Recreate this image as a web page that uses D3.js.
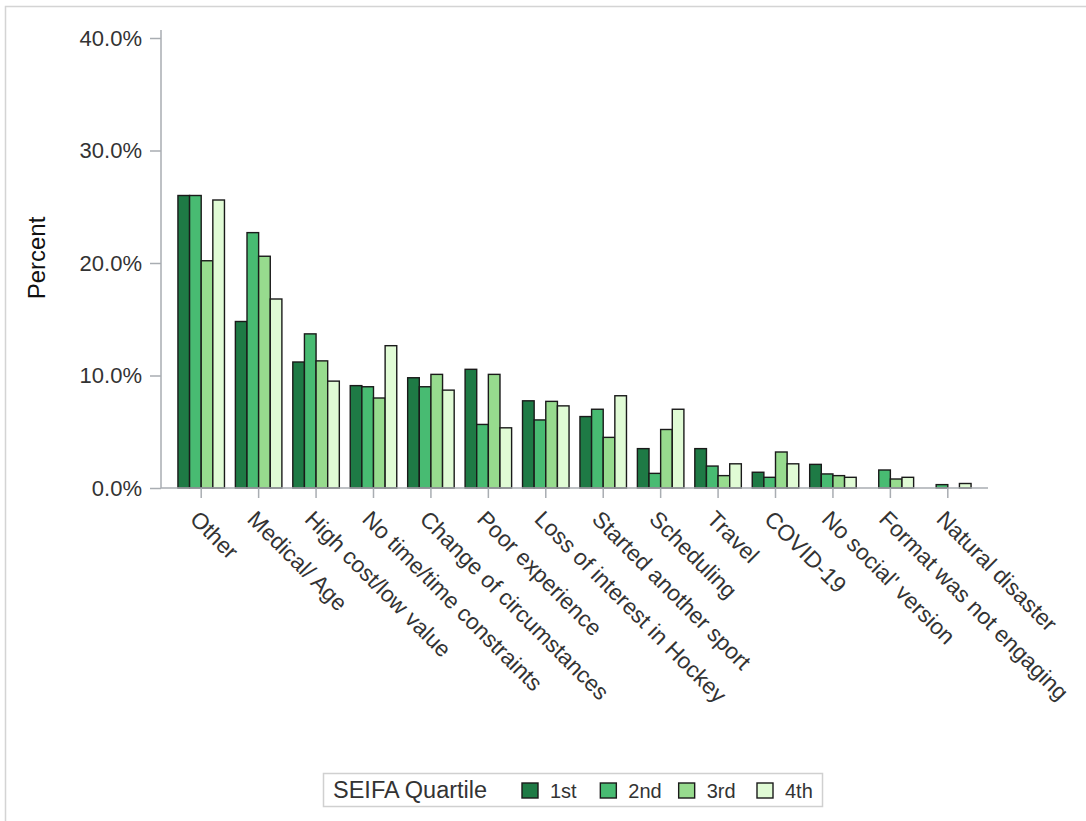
<!DOCTYPE html>
<html>
<head>
<meta charset="utf-8">
<script src="https://cdn.jsdelivr.net/npm/d3@7"></script>
<style>
  html, body { margin: 0; padding: 0; background: #fff; }
  svg { display: block; font-family: "Liberation Sans", Arial, sans-serif; }
</style>
</head>
<body>
<svg id="chart" width="1086" height="821"></svg>
<script>
// Reasons for leaving, by SEIFA quartile (percent of respondents)
const categories = [
  "Other", "Medical/ Age", "High cost/low value", "No time/time constraints",
  "Change of circumstances", "Poor experience", "Loss of interest in Hockey",
  "Started another sport", "Scheduling", "Travel", "COVID-19",
  "No social' version", "Format was not engaging", "Natural disaster"
];
const quartiles = ["1st", "2nd", "3rd", "4th"];
const q1 = [26.0, 14.8, 11.2, 9.1, 9.8, 10.55, 7.75, 6.35, 3.5, 3.5, 1.4, 2.1, 0.0, 0.0];
const q2 = [26.0, 22.7, 13.7, 9.0, 9.0, 5.65, 6.05, 7.0, 1.3, 1.95, 0.95, 1.25, 1.6, 0.3];
const q3 = [20.2, 20.6, 11.3, 8.0, 10.1, 10.1, 7.7, 4.5, 5.2, 1.1, 3.2, 1.1, 0.8, 0.0];
const q4 = [25.6, 16.8, 9.5, 12.65, 8.7, 5.35, 7.3, 8.2, 7.0, 2.15, 2.15, 0.95, 0.95, 0.4];
const yTicks = [0, 10, 20, 30, 40];
const colors = ["#1e7a45", "#48bb72", "#97db8e", "#e0fbd5"];

const series = [q1, q2, q3, q4];
const rows = categories.map((c, i) => ({ cat: c, vals: series.map(s => s[i]) }));

const svg = d3.select("#chart");

// outer frame
svg.append("path")
  .attr("d", "M5.5,821 V6.5 H1086")
  .attr("fill", "none").attr("stroke", "#d4d4d4").attr("stroke-width", 1.5);

const plotLeft = 161, plotRight = 988, plotTop = 38, plotBottom = 488;

const x = d3.scaleBand().domain(categories).range([plotLeft, plotRight]).paddingOuter(0.2).paddingInner(0);
const xInner = d3.scaleBand().domain(quartiles).range([0, x.bandwidth() * 0.81]);
const y = d3.scaleLinear().domain([0, 40]).range([plotBottom, plotTop]);

const axisColor = "#a9adb2";
const textColor = "#333333";

// bars
const groups = svg.append("g").selectAll("g").data(rows).join("g")
  .attr("transform", d => `translate(${x(d.cat) + x.bandwidth() * 0.095},0)`);
groups.selectAll("rect")
  .data(d => d.vals.map((v, k) => ({ v, k })).filter(e => e.v > 0))
  .join("rect")
  .attr("x", e => xInner(quartiles[e.k]))
  .attr("width", xInner.bandwidth())
  .attr("y", e => y(e.v))
  .attr("height", e => y(0) - y(e.v))
  .attr("fill", e => colors[e.k])
  .attr("stroke", "#1a1a1a")
  .attr("stroke-width", 1.4);

// y axis
const yAxis = d3.axisLeft(y).tickValues(yTicks).tickFormat(d => d.toFixed(1) + "%").tickSize(11).tickPadding(8);
const gy = svg.append("g").attr("transform", `translate(${plotLeft},0)`).call(yAxis);
gy.select(".domain").remove();
gy.append("line").attr("x1", 0).attr("x2", 0).attr("y1", 30).attr("y2", plotBottom)
  .attr("stroke", axisColor).attr("stroke-width", 1.5);
gy.selectAll(".tick line").attr("stroke", axisColor).attr("stroke-width", 1.5);
gy.selectAll(".tick text").attr("fill", textColor).style("font-size", "22px")
  .style("font-family", "Liberation Sans, Arial, sans-serif");

// x axis
const xAxis = d3.axisBottom(x).tickSize(10).tickFormat("");
const gx = svg.append("g").attr("transform", `translate(0,${plotBottom})`).call(xAxis);
gx.select(".domain").remove();
gx.append("line").attr("x1", plotLeft).attr("x2", plotRight).attr("y1", 0).attr("y2", 0)
  .attr("stroke", axisColor).attr("stroke-width", 1.5);
gx.selectAll(".tick line").attr("stroke", axisColor).attr("stroke-width", 1.5);

// rotated category labels
svg.append("g").selectAll("text").data(categories).join("text")
  .attr("transform", d => `translate(${x(d) + x.bandwidth() / 2},508) rotate(45)`)
  .attr("dy", "0.78em")
  .attr("text-anchor", "start")
  .attr("fill", textColor)
  .style("font-size", "22.7px")
  .text(d => d);

// y axis title
svg.append("text")
  .attr("transform", "translate(45,258) rotate(-90)")
  .attr("text-anchor", "middle")
  .attr("fill", "#111")
  .style("font-size", "24px")
  .text("Percent");

// legend
const lg = svg.append("g");
lg.append("rect").attr("x", 323.5).attr("y", 773.5).attr("width", 499).attr("height", 33)
  .attr("fill", "#fff").attr("stroke", "#d0d0d0").attr("stroke-width", 1.5);
lg.append("text").attr("x", 333).attr("y", 798).attr("fill", textColor)
  .style("font-size", "23.5px").text("SEIFA Quartile");
const legX = d3.scalePoint().domain(quartiles).range([522, 757]);
const li = lg.selectAll("g.item").data(quartiles).join("g").attr("class", "item")
  .attr("transform", d => `translate(${legX(d)},0)`);
li.append("rect").attr("x", 0).attr("y", 783).attr("width", 16).attr("height", 15)
  .attr("fill", (d, i) => colors[i]).attr("stroke", "#1a1a1a").attr("stroke-width", 1.4);
li.append("text").attr("x", 28).attr("y", 797.5).attr("fill", textColor)
  .style("font-size", "20px").text(d => d);
</script>
</body>
</html>
